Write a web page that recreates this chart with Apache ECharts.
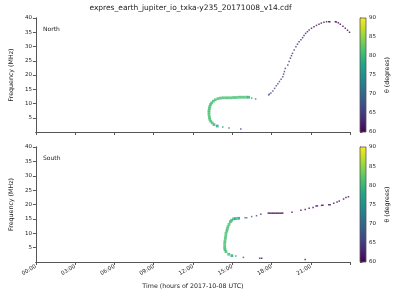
<!DOCTYPE html>
<html><head><meta charset="utf-8">
<script src="https://cdn.jsdelivr.net/npm/echarts@6/dist/echarts.min.js"></script>
<style>html,body{margin:0;padding:0;background:#fff}#c{width:400px;height:300px}</style>
</head><body><div id="c"></div>
<script>
var titleText = 'expres_earth_jupiter_io_txka-y235_20171008_v14.cdf';
var xTickLabels = ['00:00','03:00','06:00','09:00','12:00','15:00','18:00','21:00'];
var yTickValues = [5,10,15,20,25,30,35,40];
var cbTickValues = [60,65,70,75,80,85,90];

// North: time (h), frequency (MHz), theta (deg)
var northTime = [15.65,14.75,14.27,13.85,13.6,13.47,13.35,13.28,13.25,13.22,13.22,13.22,13.25,13.28,13.33,13.42,13.55,13.7,13.9,14.1,14.3,14.5,14.7,14.9,15.1,15.3,15.5,15.7,15.9,16.1,16.25,16.48,16.78,
  17.83,17.78,17.95,18.1,18.23,18.36,18.48,18.6,18.73,18.86,18.92,18.98,19.05,19.24,19.34,19.44,19.52,19.6,19.73,19.86,19.98,20.1,20.24,20.37,20.48,20.6,20.74,20.87,21.05,21.24,21.43,21.62,21.8,22.0,22.2,22.37,22.45,22.87,22.95,23.1,23.25,23.45,23.63,23.8,23.95];
var northFreq = [1.05,1.4,1.75,2.1,2.6,3.2,3.8,4.5,5.2,6.0,6.8,7.5,8.2,8.9,9.6,10.2,10.8,11.3,11.7,11.9,12.0,12.0,12.0,12.0,12.1,12.1,12.2,12.2,12.2,12.2,12.2,11.9,11.6,
  13.3,13.0,13.7,14.4,15.3,16.2,16.9,17.7,18.5,19.4,20.3,21.2,22.3,23.5,24.7,25.9,26.8,27.6,28.8,29.9,30.8,31.7,32.4,33.1,33.9,34.6,35.2,35.8,36.4,36.9,37.4,37.8,38.2,38.5,38.7,38.7,38.7,38.7,38.6,38.3,37.8,37.1,36.4,35.7,35.0];
var northTheta = [66,72,74,77,80,81,81,81,81,81,81,81,81,81,81,81,81,81,81,81,81,81,81,81,81,81,81,81,81,81,79,75,73,
  67,67,67,67,66,66,66,66,66,65,65,65,65,65,65,64,64,64,64,64,63,63,63,63,62,62,62,62,61,61,61,61,60.5,60.5,60.5,60,60,60,60,60,60,60,60,60,60];

// South
var southTime = [17.1,17.25,20.57,15.85,15.27,14.97,14.73,14.52,14.45,14.42,14.42,14.42,14.44,14.47,14.5,14.52,14.58,14.62,14.67,14.75,14.85,14.95,15.1,15.25,15.48,15.98,16.1,16.48,16.85,17.18,
  17.75,17.85,17.95,18.05,18.15,18.25,18.35,18.45,18.55,18.65,18.75,18.85,19.56,20.24,20.57,20.87,21.17,21.4,21.5,21.82,21.92,22.37,22.47,22.75,23.0,23.17,23.5,23.68,23.87];
var southFreq = [1.3,1.3,0.9,1.6,2.1,2.2,2.7,3.6,4.2,4.8,5.6,6.5,7.3,8.2,9.1,10.0,10.8,11.5,12.3,13.1,14.0,14.5,15.0,15.1,15.2,15.4,15.4,15.8,16.1,16.6,
  17.0,17.0,17.0,17.0,17.0,17.0,17.0,17.0,17.0,17.0,17.0,17.0,17.3,18.0,18.3,18.7,19.0,19.5,19.5,19.7,19.7,19.9,19.9,20.4,20.9,21.2,21.9,22.4,22.7];
var southTheta = [61,61,60,66,74,78,80,81,81,81,81,81,81,81,81,81,81,81,81,81,80,80,79,78,76,73,73,70,66,63,
  60,60,60,60,60,60,60,60,60,60,60,60,60,60,60,60,60,60,60,60,60,60,60,60,60,60,60,60,60];

var viridis = ['#440154','#482475','#414487','#355f8d','#2a788e','#21918c','#22a884','#44bf70','#7ad151','#bddf26','#fde725'];

function zip(t,f,th){var o=[];for(var i=0;i<t.length;i++)o.push([t[i],f[i],th[i]]);return o;}

var FONT='DejaVu Sans', TXT='#222', LINE='#555';
var chart = echarts.init(document.getElementById('c'), null, {renderer:'canvas'});
var G = [
  {left:31, top:18, width:319, height:114},
  {left:31, top:147, width:319, height:115},
  {left:360, top:18, width:6, height:114},
  {left:360, top:147, width:6, height:115}
];
function xMain(i, labels){
  return {gridIndex:i, type:'value', min:0, max:23.99, interval:3,
    axisLine:{show:true, onZero:false, lineStyle:{color:LINE, width:1}},
    axisTick:{show:true, length:3, lineStyle:{color:LINE}},
    splitLine:{show:false},
    axisLabel:{show:labels, fontFamily:FONT, fontSize:5.5, color:TXT, rotate:30, margin:4,
      formatter:function(v){var k=Math.round(v/3);return (Math.abs(v-3*k)<1e-6 && xTickLabels[k])?xTickLabels[k]:'';}},
    name: labels ? 'Time (hours of 2017-10-08 UTC)' : '', nameLocation:'middle', nameGap:21,
    nameTextStyle:{fontFamily:FONT, fontSize:6.3, color:TXT}
  };
}
function xTop(i){ return {gridIndex:i, type:'value', min:0, max:23.99, position:'top', axisLine:{show:true,lineStyle:{color:LINE}}, axisTick:{show:false}, axisLabel:{show:false}, splitLine:{show:false}}; }
function yMain(i){
  return {gridIndex:i, type:'value', min:0, max:40, interval:5,
    axisLine:{show:true, onZero:false, lineStyle:{color:LINE}},
    axisTick:{show:true, length:3, lineStyle:{color:LINE}},
    splitLine:{show:false},
    axisLabel:{fontFamily:FONT, fontSize:5.5, color:TXT, margin:4, showMinLabel:false,
      formatter:function(v){return yTickValues.indexOf(v)>=0?String(v):'';}},
    name:'Frequency (MHz)', nameLocation:'middle', nameGap:17, nameRotate:90,
    nameTextStyle:{fontFamily:FONT, fontSize:6.3, color:TXT}
  };
}
function yRight(i){ return {gridIndex:i, type:'value', min:0, max:40, position:'right', axisLine:{show:true,lineStyle:{color:LINE}}, axisTick:{show:false}, axisLabel:{show:false}, splitLine:{show:false}}; }
function yCb(i){
  return {gridIndex:i, type:'value', min:60, max:90, interval:5, position:'right',
    axisLine:{show:true, lineStyle:{color:LINE}},
    axisTick:{show:true, length:2.5, lineStyle:{color:LINE}},
    splitLine:{show:false},
    axisLabel:{fontFamily:FONT, fontSize:5.5, color:TXT, margin:3,
      formatter:function(v){return cbTickValues.indexOf(v)>=0?String(v):'';}},
    name:'θ (degrees)', nameLocation:'middle', nameGap:18, nameRotate:90,
    nameTextStyle:{fontFamily:FONT, fontSize:6.3, color:TXT}
  };
}
function xCb(i){ return {gridIndex:i, type:'value', min:0, max:1, show:false}; }

function cbSeries(xi, yi){
  return {type:'custom', xAxisIndex:xi, yAxisIndex:yi, silent:true, data:[[0,60,1,90]],
    renderItem:function(params, api){
      var p0 = api.coord([api.value(0), api.value(3)]);
      var p1 = api.coord([api.value(2), api.value(1)]);
      var stops = viridis.map(function(c,k){return {offset:k/(viridis.length-1), color:c};});
      return {type:'rect', shape:{x:p0[0], y:p0[1], width:p1[0]-p0[0], height:p1[1]-p0[1]},
        style:{fill:new echarts.graphic.LinearGradient(0,1,0,0,stops), stroke:LINE, lineWidth:0.8}};
    }};
}
function sz(v){ return v[2] >= 76 ? 2.8 : 1.5; }

var option = {
  animation:false,
  backgroundColor:'#fff',
  grid:G,
  xAxis:[xMain(0,false), xMain(1,true), xCb(2), xCb(3), xTop(0), xTop(1)],
  yAxis:[yMain(0), yMain(1), yCb(2), yCb(3), yRight(0), yRight(1)],
  visualMap:{type:'continuous', show:false, min:60, max:90, dimension:2, seriesIndex:[0,1], inRange:{color:viridis}},
  graphic:[
    {type:'text', x:190.5, y:4, style:{text:titleText, font:'7.5px "DejaVu Sans"', fill:TXT, textAlign:'center'}},
    {type:'text', x:43, y:26, style:{text:'North', font:'6px "DejaVu Sans"', fill:TXT}},
    {type:'text', x:43, y:155, style:{text:'South', font:'6px "DejaVu Sans"', fill:TXT}}
  ],
  series:[
    {type:'scatter', xAxisIndex:0, yAxisIndex:0, symbol:'rect', symbolSize:sz, data:zip(northTime,northFreq,northTheta)},
    {type:'scatter', xAxisIndex:1, yAxisIndex:1, symbol:'rect', symbolSize:sz, data:zip(southTime,southFreq,southTheta)},
    cbSeries(2,2), cbSeries(3,3)
  ]
};
chart.setOption(option);
</script></body></html>
